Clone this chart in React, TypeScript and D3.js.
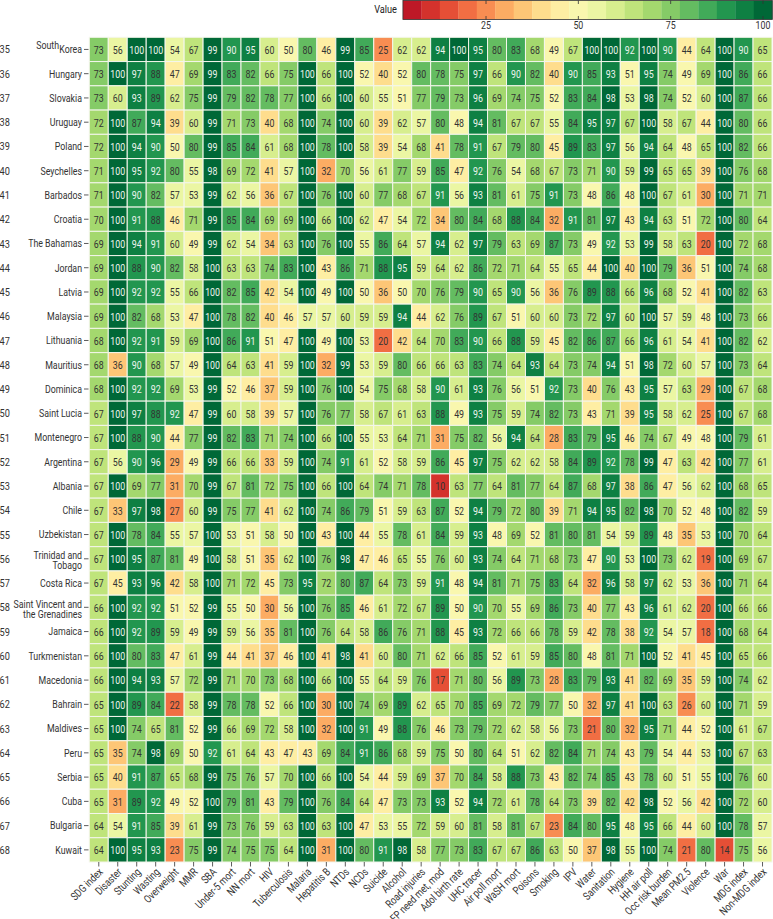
import React from 'react';
import * as d3 from 'd3';

// column indicators
const indicators = [
  'SDG index', 'Disaster', 'Stunting', 'Wasting', 'Overweight', 'MMR', 'SBA',
  'Under-5 mort', 'NN mort', 'HIV', 'Tuberculosis', 'Malaria', 'Hepatitis B',
  'NTDs', 'NCDs', 'Suicide', 'Alcohol', 'Road injuries', 'FP need met, mod',
  'Adol birth rate', 'UHC tracer', 'Air poll mort', 'WaSH mort', 'Poisons',
  'Smoking', 'IPV', 'Water', 'Sanitation', 'Hygiene', 'HH air poll',
  'Occ risk burden', 'Mean PM2.5', 'Violence', 'War', 'MDG index', 'Non-MDG index',
];

const ranks = [35, 36, 37, 38, 39, 40, 41, 42, 43, 44, 45, 46, 47, 48, 49, 50, 51,
  52, 53, 54, 55, 56, 57, 58, 59, 60, 61, 62, 63, 64, 65, 66, 67, 68];

const countries = [
  ['South', 'Korea'], ['Hungary'], ['Slovakia'], ['Uruguay'], ['Poland'], ['Seychelles'],
  ['Barbados'], ['Croatia'], ['The Bahamas'], ['Jordan'], ['Latvia'], ['Malaysia'],
  ['Lithuania'], ['Mauritius'], ['Dominica'], ['Saint Lucia'], ['Montenegro'],
  ['Argentina'], ['Albania'], ['Chile'], ['Uzbekistan'], ['Trinidad and', 'Tobago'],
  ['Costa Rica'], ['Saint Vincent and', 'the Grenadines'], ['Jamaica'], ['Turkmenistan'],
  ['Macedonia'], ['Bahrain'], ['Maldives'], ['Peru'], ['Serbia'], ['Cuba'], ['Bulgaria'],
  ['Kuwait'],
];

// one row of values per country, same order as indicators
const southKorea = [73, 56, 100, 100, 54, 67, 99, 90, 95, 60, 50, 80, 46, 99, 85, 25, 62, 62, 94, 100, 95, 80, 83, 68, 49, 67, 100, 100, 92, 100, 90, 44, 64, 100, 90, 65];
const hungary = [73, 100, 97, 88, 47, 69, 99, 83, 82, 66, 75, 100, 66, 100, 52, 40, 52, 80, 78, 75, 97, 66, 90, 82, 40, 90, 85, 93, 51, 95, 74, 49, 69, 100, 86, 66];
const slovakia = [73, 60, 93, 89, 62, 75, 99, 79, 82, 78, 77, 100, 66, 100, 60, 55, 51, 77, 79, 73, 96, 69, 74, 75, 52, 83, 84, 98, 53, 98, 74, 52, 60, 100, 87, 66];
const uruguay = [72, 100, 87, 94, 39, 60, 99, 71, 73, 40, 68, 100, 74, 100, 60, 39, 62, 57, 80, 48, 94, 81, 67, 67, 55, 84, 95, 97, 67, 100, 58, 67, 44, 100, 80, 66];
const poland = [72, 100, 94, 90, 50, 80, 99, 85, 84, 61, 68, 100, 78, 100, 58, 39, 54, 68, 41, 78, 91, 67, 79, 80, 45, 89, 83, 97, 56, 94, 64, 48, 65, 100, 82, 66];
const seychelles = [71, 100, 95, 92, 80, 55, 98, 69, 72, 41, 57, 100, 32, 70, 56, 61, 77, 59, 85, 47, 92, 76, 54, 68, 67, 73, 71, 90, 59, 99, 65, 65, 39, 100, 76, 68];
const barbados = [71, 100, 90, 82, 57, 53, 99, 62, 56, 36, 67, 100, 76, 100, 60, 77, 68, 67, 91, 56, 93, 81, 61, 75, 91, 73, 48, 86, 48, 100, 67, 61, 30, 100, 71, 71];
const croatia = [70, 100, 91, 88, 46, 71, 99, 85, 84, 69, 69, 100, 66, 100, 62, 47, 54, 72, 34, 80, 84, 68, 88, 84, 32, 91, 81, 97, 43, 94, 63, 51, 72, 100, 80, 64];
const bahamas = [69, 100, 94, 91, 60, 49, 99, 62, 54, 34, 63, 100, 76, 100, 55, 86, 64, 57, 94, 62, 97, 79, 63, 69, 87, 73, 49, 92, 53, 99, 58, 63, 20, 100, 72, 68];
const jordan = [69, 100, 88, 90, 82, 58, 100, 63, 63, 74, 83, 100, 43, 86, 71, 88, 95, 59, 64, 62, 86, 72, 71, 64, 55, 65, 44, 100, 40, 100, 79, 36, 51, 100, 74, 68];
const latvia = [69, 100, 92, 92, 55, 66, 100, 82, 85, 42, 54, 100, 49, 100, 50, 36, 50, 70, 76, 79, 90, 65, 90, 56, 36, 76, 89, 88, 66, 96, 68, 52, 41, 100, 82, 63];
const malaysia = [69, 100, 82, 68, 53, 47, 100, 78, 82, 40, 46, 57, 57, 60, 59, 59, 94, 44, 62, 76, 89, 67, 51, 60, 60, 73, 72, 97, 60, 100, 57, 59, 48, 100, 73, 66];
const lithuania = [68, 100, 92, 91, 59, 69, 100, 86, 91, 51, 47, 100, 49, 100, 53, 20, 42, 64, 70, 83, 90, 66, 88, 59, 45, 82, 86, 87, 66, 96, 61, 54, 41, 100, 82, 62];
const mauritius = [68, 36, 90, 68, 57, 49, 100, 64, 63, 41, 59, 100, 32, 99, 53, 59, 80, 66, 66, 63, 83, 74, 64, 93, 64, 73, 74, 94, 51, 98, 72, 60, 57, 100, 73, 64];
const dominica = [68, 100, 92, 92, 69, 53, 99, 52, 46, 37, 59, 100, 76, 100, 54, 75, 68, 58, 90, 61, 93, 76, 56, 51, 92, 73, 40, 76, 43, 95, 57, 63, 29, 100, 67, 68];
const saintLucia = [67, 100, 97, 88, 92, 47, 99, 60, 58, 39, 57, 100, 76, 77, 58, 67, 61, 63, 88, 49, 93, 75, 59, 74, 82, 73, 43, 71, 39, 95, 58, 62, 25, 100, 67, 68];
const montenegro = [67, 100, 88, 90, 44, 77, 99, 82, 83, 71, 74, 100, 66, 100, 55, 53, 64, 71, 31, 75, 82, 56, 94, 64, 28, 83, 79, 95, 46, 74, 67, 49, 48, 100, 79, 61];
const argentina = [67, 56, 90, 96, 29, 49, 99, 66, 66, 33, 59, 100, 74, 91, 61, 52, 58, 59, 86, 45, 97, 75, 62, 62, 58, 84, 89, 92, 78, 99, 47, 63, 42, 100, 77, 61];
const albania = [67, 100, 69, 77, 31, 70, 99, 67, 81, 72, 75, 100, 66, 100, 64, 74, 71, 78, 10, 63, 77, 64, 81, 77, 64, 87, 68, 97, 38, 86, 47, 56, 62, 100, 68, 65];
const chile = [67, 33, 97, 98, 27, 60, 99, 75, 77, 41, 62, 100, 74, 86, 79, 51, 59, 63, 87, 52, 94, 79, 72, 80, 39, 71, 94, 95, 82, 98, 70, 52, 48, 100, 82, 59];
const uzbekistan = [67, 100, 78, 84, 55, 57, 100, 53, 51, 58, 50, 100, 43, 100, 44, 55, 78, 61, 84, 59, 93, 48, 69, 52, 81, 80, 81, 54, 59, 89, 48, 35, 53, 100, 70, 64];
const trinidad = [67, 100, 95, 87, 81, 49, 100, 58, 51, 35, 62, 100, 76, 98, 47, 46, 65, 55, 76, 60, 93, 74, 64, 71, 68, 73, 47, 90, 53, 100, 73, 62, 19, 100, 69, 67];
const costaRica = [67, 45, 93, 96, 42, 58, 100, 71, 72, 45, 73, 95, 72, 80, 87, 64, 73, 59, 91, 48, 94, 81, 71, 75, 83, 64, 32, 96, 58, 97, 62, 53, 36, 100, 71, 64];
const saintVincent = [66, 100, 92, 92, 51, 52, 99, 55, 50, 30, 56, 100, 76, 85, 46, 61, 72, 67, 89, 50, 90, 70, 55, 69, 86, 73, 40, 77, 43, 96, 61, 62, 20, 100, 66, 66];
const jamaica = [66, 100, 92, 89, 59, 49, 99, 59, 56, 35, 81, 100, 76, 64, 58, 86, 76, 71, 88, 45, 93, 72, 66, 66, 78, 59, 42, 78, 38, 92, 54, 57, 18, 100, 68, 64];
const turkmenistan = [66, 100, 80, 83, 47, 61, 99, 44, 41, 37, 46, 100, 41, 98, 41, 60, 80, 71, 62, 66, 85, 52, 61, 59, 85, 80, 48, 81, 71, 100, 52, 41, 45, 100, 65, 66];
const macedonia = [66, 100, 94, 93, 57, 72, 99, 71, 70, 73, 68, 100, 66, 100, 55, 64, 59, 76, 17, 71, 80, 56, 89, 73, 28, 83, 79, 93, 41, 82, 69, 35, 59, 100, 74, 62];
const bahrain = [65, 100, 89, 84, 22, 58, 99, 78, 78, 52, 66, 100, 30, 100, 74, 69, 89, 62, 65, 70, 85, 69, 72, 79, 77, 50, 32, 97, 41, 100, 63, 26, 60, 100, 71, 59];
const maldives = [65, 100, 74, 65, 81, 52, 99, 66, 69, 72, 58, 100, 32, 100, 91, 49, 88, 76, 46, 73, 79, 72, 62, 58, 56, 73, 21, 80, 32, 95, 71, 44, 52, 100, 61, 67];
const peru = [65, 35, 74, 98, 69, 50, 92, 61, 64, 43, 47, 43, 69, 84, 91, 86, 68, 59, 75, 50, 80, 64, 51, 62, 82, 84, 71, 74, 43, 79, 54, 44, 53, 100, 67, 63];
const serbia = [65, 40, 91, 87, 65, 68, 99, 75, 76, 57, 70, 100, 66, 100, 54, 44, 59, 69, 37, 70, 84, 58, 88, 73, 43, 82, 74, 85, 43, 78, 60, 51, 55, 100, 76, 60];
const cuba = [65, 31, 89, 92, 49, 52, 100, 79, 81, 43, 79, 100, 76, 84, 64, 47, 73, 73, 93, 52, 94, 72, 61, 78, 64, 73, 39, 82, 42, 98, 52, 56, 42, 100, 72, 60];
const bulgaria = [64, 54, 91, 85, 39, 61, 99, 73, 76, 59, 63, 100, 63, 100, 47, 53, 55, 72, 59, 60, 81, 58, 81, 67, 23, 84, 80, 95, 48, 95, 66, 44, 60, 100, 78, 57];
const kuwait = [64, 100, 95, 93, 23, 75, 99, 74, 75, 75, 64, 100, 31, 100, 80, 91, 98, 58, 77, 73, 83, 67, 67, 86, 63, 50, 37, 98, 55, 100, 74, 21, 80, 14, 75, 56];

const rows = [southKorea, hungary, slovakia, uruguay, poland, seychelles, barbados, croatia,
  bahamas, jordan, latvia, malaysia, lithuania, mauritius, dominica, saintLucia, montenegro,
  argentina, albania, chile, uzbekistan, trinidad, costaRica, saintVincent, jamaica,
  turkmenistan, macedonia, bahrain, maldives, peru, serbia, cuba, bulgaria, kuwait];

// legend bins (centres) and ticks
const legendSteps = [5, 10, 15, 20, 25, 30, 35, 40, 45, 50, 55, 60, 65, 70, 75, 80, 85, 90, 95, 100];
const legendTicks = [25, 50, 75, 100];

const W = 773;
const H = 919;
const FONT = 'Roboto, "Liberation Sans", sans-serif';
const SQ = 0.8; // horizontal squeeze to mimic the condensed face

const color = (v: number) => d3.interpolateRdYlGn(Math.round(v / 5) * 5 / 100);

// condensed text helper
const T = ({ x, y, rot = 0, anchor = 'start', size = 10, fill = '#333', children }: any) => (
  <text transform={`translate(${x},${y}) rotate(${rot}) scale(${SQ},1)`} dy="0.35em"
    textAnchor={anchor} fontSize={size} fill={fill}>{children}</text>
);

const App = () => {
  const x = d3.scaleBand<string>().domain(indicators).range([89.3, 772]);
  const y = d3.scaleBand<number>().domain(ranks).range([37.3, 862]);
  const lx = d3.scaleLinear().domain([0, 100]).range([393.7, 763]);
  const cw = x.bandwidth();
  const ch = y.bandwidth();

  return (
    <svg width={W} height={H} style={{ position: 'absolute', left: 0, top: 0, display: 'block' }}
      fontFamily={FONT}>
      {/* legend */}
      <T x={397} y={9} anchor="end" size={11.5} fill="#222">Value</T>
      {legendSteps.map(s => (
        <rect key={s} x={lx(s - 2.5)} y={0.5} width={lx(s + 2.5) - lx(s - 2.5) + 0.3} height={19}
          fill={color(s)} />
      ))}
      <rect x={lx(2.5)} y={0.5} width={lx(102.5) - lx(2.5)} height={19} fill="none" stroke="#333" strokeWidth={0.8} />
      {legendTicks.map(t => (
        <g key={t}>
          <line x1={lx(t)} x2={lx(t)} y1={0.5} y2={4} stroke="#333" strokeWidth={0.8} />
          <line x1={lx(t)} x2={lx(t)} y1={16} y2={19.5} stroke="#333" strokeWidth={0.8} />
          <T x={lx(t)} y={25} anchor="middle" size={11}>{t}</T>
        </g>
      ))}

      {/* cells */}
      {rows.map((vals, ri) => (
        <g key={ranks[ri]}>
          {vals.map((v, ci) => {
            const cx = x(indicators[ci])!;
            const cy = y(ranks[ri])!;
            return (
              <g key={ci}>
                <rect x={cx} y={cy} width={cw} height={ch} fill={color(v)} stroke="#f4f6ec" strokeWidth={1} />
                <T x={cx + cw / 2} y={cy + ch / 2 + 0.5} anchor="middle" size={11}
                  fill={v >= 90 ? '#eef4ee' : '#333'}>{v}</T>
              </g>
            );
          })}
        </g>
      ))}

      {/* y axis */}
      {ranks.map((r, ri) => {
        const cy = y(r)! + ch / 2;
        const name = countries[ri];
        return (
          <g key={r}>
            <T x={-0.5} y={cy} size={11.5}>{r}</T>
            <line x1={84} x2={88.5} y1={cy} y2={cy} stroke="#333" strokeWidth={0.8} />
            {name.length === 1 && <T x={82} y={cy} anchor="end" size={11}>{name[0]}</T>}
            {name.length === 2 && name[0] === 'South' && (
              <g>
                <T x={59} y={cy - 4} anchor="end" size={11}>{name[0]}</T>
                <T x={82} y={cy} anchor="end" size={11}>{name[1]}</T>
              </g>
            )}
            {name.length === 2 && name[0] !== 'South' && (
              <g>
                <T x={82} y={cy - 3.5} anchor="end" size={11}>{name[0]}</T>
                <T x={82} y={cy + 6.8} anchor="end" size={11}>{name[1]}</T>
              </g>
            )}
          </g>
        );
      })}

      {/* x axis */}
      {indicators.map(ind => {
        const cx = x(ind)! + cw / 2;
        return (
          <g key={ind}>
            <line x1={cx} x2={cx} y1={862} y2={866.5} stroke="#333" strokeWidth={0.8} />
            <T x={cx + 2} y={870} rot={-45} anchor="end" size={11}>{ind}</T>
          </g>
        );
      })}
    </svg>
  );
};

export default App;
